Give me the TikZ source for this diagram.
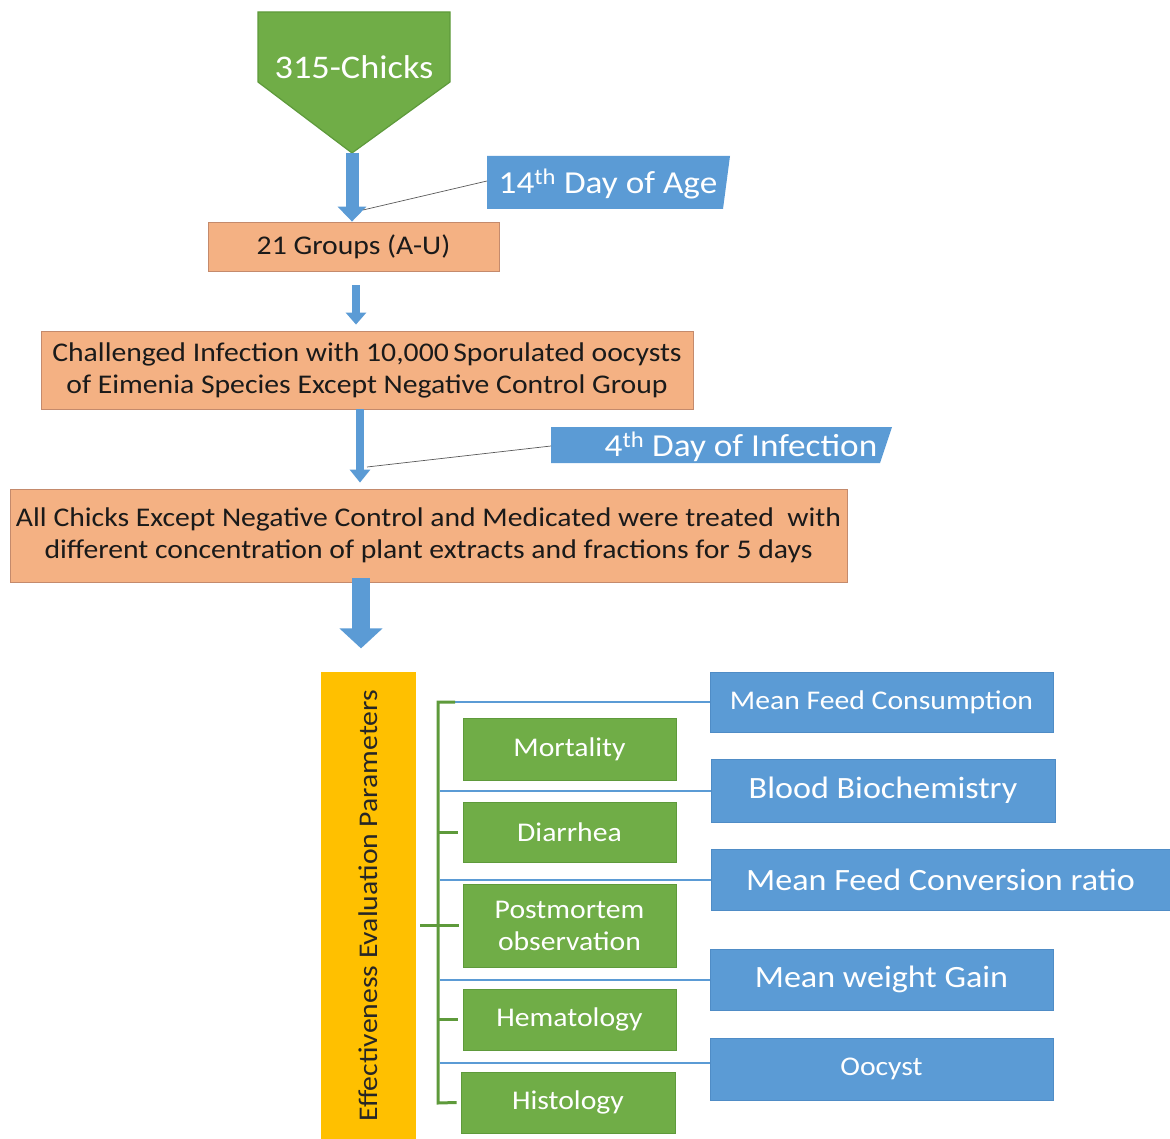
\documentclass[tikz,border=0pt]{standalone}
\usepackage{fontspec}
\setmainfont{Carlito}[FakeStretch=1.1]
\usetikzlibrary{arrows.meta,calc}
\definecolor{cgreen}{HTML}{70AD47}
\definecolor{cgreenD}{HTML}{5E9A3B}
\definecolor{cblue}{HTML}{5B9BD5}
\definecolor{cblueD}{HTML}{4F8CC6}
\definecolor{csalmon}{HTML}{F4B183}
\definecolor{csalmonD}{HTML}{C48A6C}
\definecolor{corange}{HTML}{FFC000}
\definecolor{ctext}{HTML}{1A1A1A}
\begin{document}
\begin{tikzpicture}[x=1pt,y=-1pt,
  salbox/.style={draw=csalmonD, line width=0.8pt, fill=csalmon, text=ctext, inner sep=0pt, align=center, font=\fontsize{27}{32}\selectfont},
  gbox/.style={fill=cgreen, draw=cgreenD, line width=0.6pt, text=white, inner sep=0pt, align=center, minimum width=213pt, font=\fontsize{27}{32}\selectfont},
  bbox/.style={fill=cblue, draw=cblueD, line width=0.6pt, text=white, inner sep=0pt, align=center, minimum width=343pt},
  callout/.style={draw=black!65, line width=0.7pt},
  greenline/.style={draw=cgreenD, line width=3pt},
  blueline/.style={draw=cblue, line width=2pt},
]
\useasboundingbox (0,0) rectangle (1170,1139);

% pentagon
\draw[fill=cgreen, draw=cgreenD, line width=1.2pt] (258,12) -- (450,12) -- (450,82) -- (352,153) -- (258,82) -- cycle;
\coordinate (tip) at (352,153);
\node[text=white, font=\fontsize{33}{40}\selectfont] (chicks) at (354,67) {315-Chicks};

% boxes
\node[salbox, minimum width=291pt, minimum height=49pt] (g21) at (353.5,246.5) {21 Groups (A-U)};
\node[salbox, minimum width=652pt, minimum height=78pt] (chal) at (367,370)
  {Challenged Infection with 10,000\,Sporulated oocysts\\of Eimenia Species Except Negative Control Group};
\node[salbox, minimum width=837pt, minimum height=93pt] (treat) at (428.5,535.5)
  {All Chicks Except Negative Control and Medicated were treated \ with\\different concentration of plant extracts and fractions for 5 days};

% parallelogram labels
\fill[cblue] (487,156) -- (730,156) -- (723,209) -- (487,209) -- cycle;
\coordinate (agew) at (487,181);
\node[text=white, font=\fontsize{32}{38}\selectfont] (age) at (608,184) {14\textsuperscript{th} Day of Age};
\fill[cblue] (551,427) -- (892,427) -- (880,463) -- (551,463) -- cycle;
\coordinate (infw) at (551,446);
\node[text=white, font=\fontsize{32}{38}\selectfont] (inf) at (741,447) {4\textsuperscript{th} Day of Infection};

% block arrows
\draw[cblue, line width=13pt, -{Triangle[length=15pt,width=28pt]}] (tip) -- (tip |- g21.north);
\coordinate (a2s) at ($(g21.south)+(2.5,14)$);
\coordinate (a2e) at (a2s |- chal.north);
\draw[cblue, line width=8pt, shorten >=6pt, -{Triangle[length=12pt,width=20pt]}] (a2s) -- (a2e);
\coordinate (a3s) at ($(chal.south)+(-7,0)$);
\coordinate (a3e) at (a3s |- treat.north);
\draw[cblue, line width=8pt, shorten >=6pt, -{Triangle[length=13pt,width=20pt]}] (a3s) -- (a3e);
\coordinate (a4s) at ($(treat.south)+(-67.5,-4)$);
\coordinate (a4e) at ($(a4s)+(0,70)$);
\draw[cblue, line width=18pt, -{Triangle[length=20pt,width=42pt]}] (a4s) -- (a4e);

% callout lines
\coordinate (c1) at (363,210);
\draw[callout] (agew) -- (c1);
\coordinate (c2) at (367,467);
\draw[callout] (infw) -- (c2);

% orange bar
\node[fill=corange, minimum width=467pt, minimum height=95pt, inner sep=0pt, rotate=90, text=black!85, font=\fontsize{27}{32}\selectfont] (eep) at (368.5,905.5) {Effectiveness Evaluation Parameters};

% green boxes
\node[gbox, minimum height=62pt] (mort) at (569.5,749) {Mortality};
\node[gbox, minimum height=60pt] (dia) at (569.5,832) {Diarrhea};
\node[gbox, minimum height=83pt] (pm) at (569.5,925.5) {Postmortem\\observation};
\node[gbox, minimum height=61pt] (hem) at (569.5,1019.5) {Hematology};
\node[gbox, minimum height=61pt, minimum width=214pt] (his) at (568,1102.5) {Histology};

% blue boxes
\node[bbox, minimum height=60pt, font=\fontsize{27}{34}\selectfont] (mfc) at (881.5,702) {Mean Feed Consumption};
\node[bbox, minimum height=63pt, minimum width=344pt, font=\fontsize{31}{36}\selectfont] (bb) at (883,790.5) {Blood Biochemistry};
\node[bbox, minimum height=61pt, minimum width=459pt, font=\fontsize{31}{36}\selectfont] (mfcr) at (940.5,879.5) {Mean Feed Conversion ratio};
\node[bbox, minimum height=61pt, font=\fontsize{31}{36}\selectfont] (mwg) at (881.5,979.5) {Mean weight Gain};
\node[bbox, minimum height=62pt, font=\fontsize{27}{34}\selectfont] (ooc) at (881.5,1069) {Oocyst};

% bracket
\coordinate (brtop) at (438,702);
\coordinate (brbot) at (438,1103);
\coordinate (brx) at (440,0);
\coordinate (oocl) at ($(ooc.west)+(0,-6)$);
\draw[blueline] (mfc.west) -- (mfc.west -| brx);
\draw[blueline] (bb.west) -- (bb.west -| brx);
\draw[blueline] (mfcr.west) -- (mfcr.west -| brx);
\draw[blueline] (mwg.west) -- (mwg.west -| brx);
\draw[blueline] (oocl) -- (oocl -| brx);
\draw[greenline] ($(brtop)+(17,0)$) -- (brtop) -- (brbot) -- ($(his.west)+(-4,0)$);
\draw[greenline, shorten <=5pt] (dia.west) -- (dia.west -| brtop);
\draw[greenline, shorten <=5pt] (hem.west) -- (hem.west -| brtop);
\draw[greenline, shorten <=4pt, shorten >=4pt] (pm.west) -- (pm.west -| eep.south);
\end{tikzpicture}
\end{document}
